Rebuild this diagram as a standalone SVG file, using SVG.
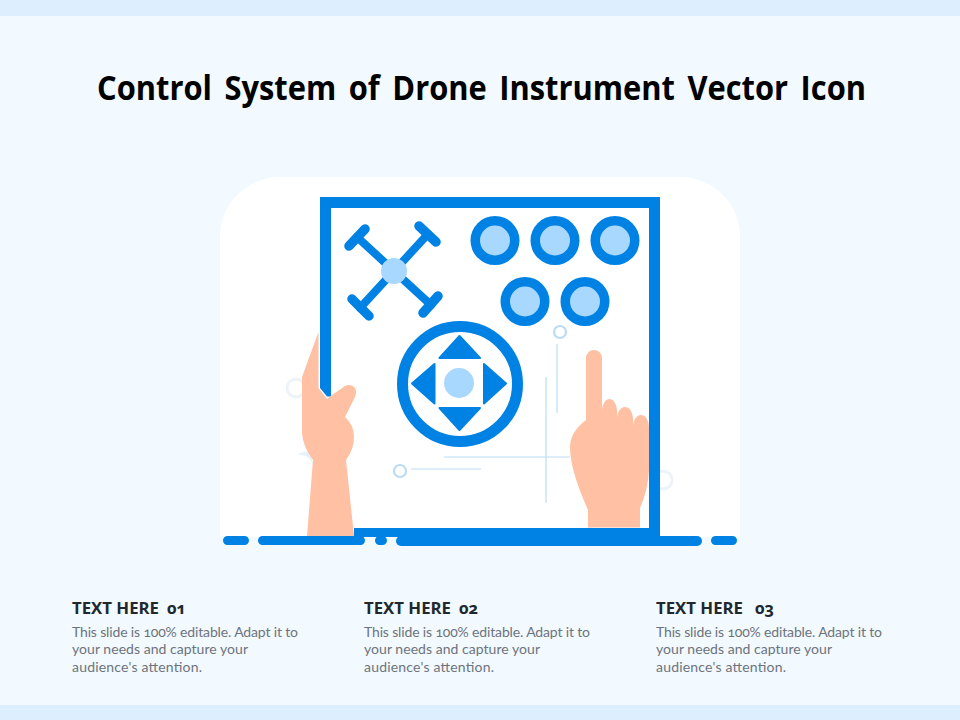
<svg xmlns="http://www.w3.org/2000/svg" width="960" height="720" viewBox="0 0 960 720">
<style>
.blue{fill:#0082e4}
.light{fill:#a9d8ff}
.skin{fill:#ffc0a3}
.bar{stroke:#0082e4;stroke-linecap:round;fill:none}
.thin{stroke:#bcdcf3;stroke-width:1.2;fill:none}
.ring{fill:#fff;stroke:#bcdcf3;stroke-width:2.2}
.faint{fill:none;stroke:#eef3f9;stroke-width:3}
.btn{fill:#0082e4}
text{font-family:"Open Sans","Liberation Sans",sans-serif;font-variant-numeric:oldstyle-nums}
.title{font-size:34px;font-weight:700;fill:#000;word-spacing:5px}
.head{font-size:16.500px;font-weight:700;fill:#20282f}
.body{font-size:14px;fill:#6d747c;font-family:"Lato","Open Sans",sans-serif}
</style>
<rect id="background" width="960" height="720" fill="#f2f9ff"/>
<rect id="top-band" width="960" height="16" fill="#ddefff"/>
<rect id="bottom-band" y="705" width="960" height="15" fill="#ddefff"/>
<text id="title" class="title" x="97" y="99.500" textLength="769" lengthAdjust="spacingAndGlyphs">Control System of Drone Instrument Vector Icon</text>
<path id="panel" d="M220 537V237a60 60 0 0 1 60-60H680a60 60 0 0 1 60 60V537Z" fill="#fff"/>
<g id="decor">
<circle class="faint" cx="296" cy="388" r="9"/>
<circle class="faint" cx="663" cy="480" r="9"/>
<path d="M297 454Q304 452 309 451L314 466Q310 458 306 456Z" fill="#e6f1fa"/>
</g>
<g id="connectors">
<path class="thin" d="M557 344V413M546 377V503M444 457H570M411 469H481"/>
<circle class="ring" cx="560" cy="332" r="6"/>
<circle class="ring" cx="400" cy="471" r="6"/>
</g>
<g id="frame">
<path class="blue" d="M320 197H660V537H354V528H649V208H331V396.500L327 396.500L320 388Z"/>
</g>
<g id="ground">
<path class="bar" stroke-width="9" d="M227.500 540.500H244.500M262.500 540.500H360.500M379.500 540.500H382.500M715.500 540.500H732.500"/>
<path class="bar" stroke-width="10" d="M401 541H697"/>
</g>
<g id="drone">
<path class="bar" stroke-width="8" d="M394 271L357 237M394 271L428 234M394 271L360 308M394 271L431 305"/>
<path class="bar" stroke-width="9.500" d="M349 246L365 229M419 226L436 242M352 299L369 316M438 296L423 313"/>
<circle class="light" cx="394" cy="271" r="13"/>
</g>
<g id="buttons">
<g id="button-1"><circle class="btn" cx="495" cy="240.500" r="24.500"/><circle class="light" cx="495" cy="240.500" r="15"/></g>
<g id="button-2"><circle class="btn" cx="555" cy="240.500" r="24.500"/><circle class="light" cx="555" cy="240.500" r="15"/></g>
<g id="button-3"><circle class="btn" cx="615" cy="240.500" r="24.500"/><circle class="light" cx="615" cy="240.500" r="15"/></g>
<g id="button-4"><circle class="btn" cx="525" cy="301.500" r="24.500"/><circle class="light" cx="525" cy="301.500" r="15"/></g>
<g id="button-5"><circle class="btn" cx="585" cy="301.500" r="24.500"/><circle class="light" cx="585" cy="301.500" r="15"/></g>
</g>
<g id="joystick">
<circle cx="460" cy="384" r="57.500" fill="#fff" stroke="#0082e4" stroke-width="11"/>
<circle class="light" cx="459" cy="383" r="15"/>
<g class="blue" stroke="#0082e4" stroke-width="2" stroke-linejoin="round">
<path d="M459.500 336L480 358H439.500Z"/>
<path d="M459.500 430L480 408H439.500Z"/>
<path d="M412 383.500L434.500 364V403.500Z"/>
<path d="M506 383.500L484 364V403.500Z"/>
</g>
</g>
<g id="left-hand">
<path class="skin" d="M318.500 332V388L327 399L332 395L345 386Q351 383 355 388Q357 392 355 397L345 417Q354 425 354 437Q354 449 346 460L354 536H307L313 460Q303 447 302 433V377Z"/>
</g>
<g id="right-hand">
<path class="skin" d="M586 420V358a8 8 0 0 1 16 0V412C602 403 606 399 609.500 399C613 399 617 403 617 412V420C617 411 621 407 625 407C629 407 633 411 633 420V428C633 419 637 415 641 415C645 415 649 419 649 428V470Q648 490 640 508V527.500H588V510Q570 470 570 447Q570 432 586 420Z"/>
</g>
<g id="text-1">
<text class="head" x="72" y="614" textLength="87" lengthAdjust="spacingAndGlyphs">TEXT HERE</text><text class="head" x="167" y="614">01</text>
<text class="body" x="72" y="637" textLength="226">This slide is 100% editable. Adapt it to</text>
<text class="body" x="72" y="654" textLength="176">your needs and capture your</text>
<text class="body" x="72" y="672" textLength="130">audience's attention.</text>
</g>
<g id="text-2">
<text class="head" x="364" y="614" textLength="87" lengthAdjust="spacingAndGlyphs">TEXT HERE</text><text class="head" x="459" y="614">02</text>
<text class="body" x="364" y="637" textLength="226">This slide is 100% editable. Adapt it to</text>
<text class="body" x="364" y="654" textLength="176">your needs and capture your</text>
<text class="body" x="364" y="672" textLength="130">audience's attention.</text>
</g>
<g id="text-3">
<text class="head" x="656" y="614" textLength="87" lengthAdjust="spacingAndGlyphs">TEXT HERE</text><text class="head" x="755" y="614">03</text>
<text class="body" x="656" y="637" textLength="226">This slide is 100% editable. Adapt it to</text>
<text class="body" x="656" y="654" textLength="176">your needs and capture your</text>
<text class="body" x="656" y="672" textLength="130">audience's attention.</text>
</g>
</svg>
